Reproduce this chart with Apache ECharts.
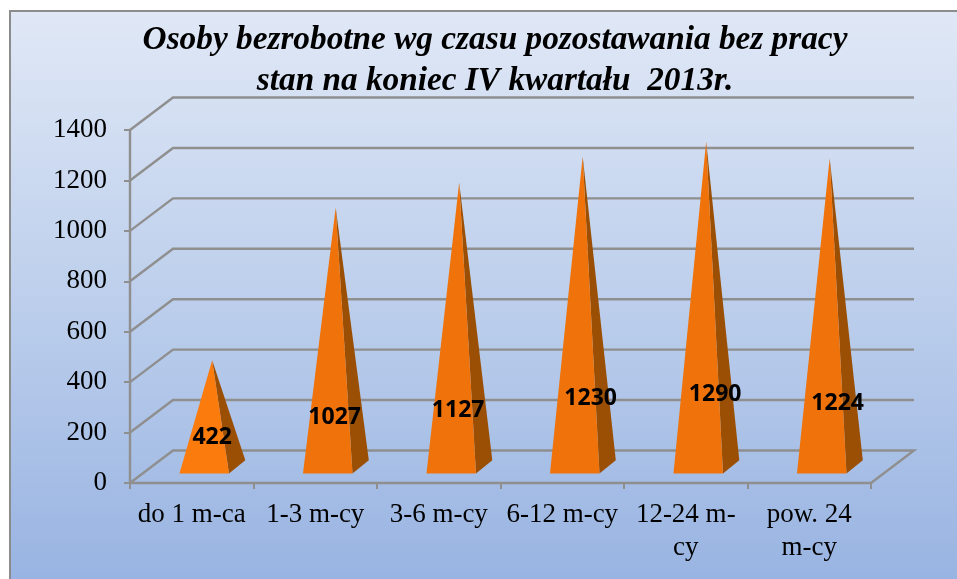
<!DOCTYPE html>
<html>
<head>
<meta charset="utf-8">
<style>html,body{margin:0;padding:0;background:#fff}#c{width:957px;height:579px}</style>
<script src="https://cdn.jsdelivr.net/npm/echarts@6/dist/echarts.min.js"></script>
</head>
<body>
<div id="c"></div>
<script>
const categories = ['do 1 m-ca', '1-3 m-cy', '3-6 m-cy', '6-12 m-cy', '12-24 m-\ncy', 'pow. 24\nm-cy'];
const values = [422, 1027, 1127, 1230, 1290, 1224];
const yTicks = [0, 200, 400, 600, 800, 1000, 1200, 1400];
const titleText = 'Osoby bezrobotne wg czasu pozostawania bez pracy\nstan na koniec IV kwartału  2013r.';

const depthX = 43, depthY = 32.5, halfWidth = 24.75;
const nearFrac = 0.29, farFracX = 0.67, farFracY = 0.70, apexFracX = 0.475;
const labelShift = [[0, 77], [-1, 210], [-1, 228], [8, 242], [9, 253], [8, 245]];
const frontColors = ['#FB7B0D', '#EF730A', '#EF730A', '#EF730A', '#EF730A', '#EF730A'];
const sideColor = '#9A4F05';
const wallColor = '#8F8F8F';

const chart = echarts.init(document.getElementById('c'), null, {renderer: 'canvas'});

function renderWall(params, api) {
  const v = api.value(0);
  const p = api.coord([0, v]);
  const band = api.size([1, 0])[0];
  const x0 = p[0] - band / 2;
  const x1 = x0 + band * categories.length;
  const y = p[1];
  const style = {stroke: wallColor, lineWidth: 2.4, fill: 'none'};
  const pts = [[x0, y], [x0 + depthX, y - depthY], [x1 + depthX, y - depthY]];
  if (v === 0) pts.push([x1, y]);
  return {type: 'polyline', shape: {points: pts}, style: style, silent: true};
}

function renderPyramid(params, api) {
  const i = api.value(0);
  const v = api.value(1);
  const base = api.coord([i, 0]);
  const top = api.coord([i, v]);
  const nx = base[0] + depthX * nearFrac, ny = base[1] - depthY * nearFrac;
  const fx = base[0] + depthX * farFracX, fy = base[1] - depthY * farFracY;
  const ax = base[0] + depthX * apexFracX, ay = top[1] - depthY / 2;
  const s = labelShift[i];
  return {
    type: 'group',
    children: [
      {type: 'polygon', shape: {points: [[nx + halfWidth, ny], [fx + halfWidth, fy], [ax, ay]]},
        style: {fill: sideColor}},
      {type: 'polygon', shape: {points: [[nx - halfWidth, ny], [nx + halfWidth, ny], [ax, ay]]},
        style: {fill: frontColors[i]}},
      {type: 'text', z2: 10, style: {
        text: String(v), x: ax + s[0], y: ay + s[1], align: 'center', verticalAlign: 'middle',
        font: 'bold 23px "Noto Sans", "Open Sans", sans-serif', fill: '#000'}}
    ]
  };
}

chart.setOption({
  animation: false,
  backgroundColor: '#ffffff',
  graphic: [
    {type: 'rect', z: -100, silent: true, shape: {x: 10, y: 11, width: 947, height: 568},
      style: {fill: new echarts.graphic.LinearGradient(0, 0, 0, 1, [
        {offset: 0, color: '#E0E8F6'},
        {offset: 0.5, color: '#BDCFEC'},
        {offset: 1, color: '#99B4E2'}
      ])}},
    {type: 'polyline', z: -99, silent: true,
      shape: {points: [[10, 579], [10, 11], [957, 11]]},
      style: {stroke: '#8C8C8C', lineWidth: 2, fill: 'none'}}
  ],
  title: {
    text: titleText, left: 490, top: 15, textAlign: 'center',
    textStyle: {fontFamily: '"Liberation Serif", serif', fontStyle: 'italic', fontWeight: 'bold',
      fontSize: 33.3, lineHeight: 41, color: '#000'}
  },
  grid: {left: 130, right: 86, top: 130, bottom: 96, containLabel: false},
  xAxis: {
    type: 'category', data: categories, boundaryGap: true,
    axisLine: {show: true, lineStyle: {color: wallColor, width: 2.4}},
    axisTick: {show: true, alignWithLabel: false, length: 6, lineStyle: {color: wallColor, width: 2}},
    axisLabel: {interval: 0, margin: 15, fontFamily: '"Liberation Serif", serif', fontSize: 27,
      lineHeight: 33, color: '#000'},
    splitLine: {show: false}
  },
  yAxis: {
    type: 'value', min: 0, max: 1400, interval: 200,
    axisLine: {show: true, lineStyle: {color: wallColor, width: 2.4}},
    axisTick: {show: true, length: 6, lineStyle: {color: wallColor, width: 2}},
    axisLabel: {margin: 23, formatter: v => String(v), padding: [5, 0, 0, 0],
      fontFamily: '"Liberation Serif", serif', fontSize: 27, color: '#000'},
    splitLine: {show: false}
  },
  series: [
    {type: 'custom', name: 'walls', data: yTicks.map(v => [v]), renderItem: renderWall, z: 1,
      encode: {y: 0}, silent: true},
    {type: 'custom', name: 'Osoby', data: values.map((v, i) => [i, v]), renderItem: renderPyramid, z: 3,
      encode: {x: 0, y: 1}}
  ]
});
</script>
</body>
</html>
